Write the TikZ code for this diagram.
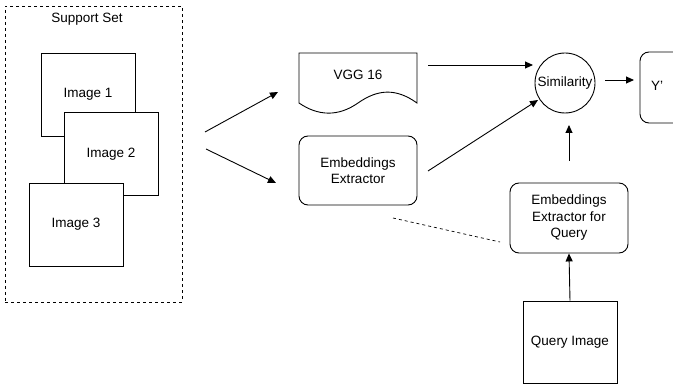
\documentclass[tikz,border=0pt]{standalone}
\usepackage{fontspec}
\setmainfont{Liberation Sans}
\usetikzlibrary{arrows.meta}
\begin{document}
\begin{tikzpicture}[x=1pt,y=-1pt,line width=0.9pt,
  lbl/.style={font=\fontsize{13.5}{16.5}\selectfont,align=center},
  imgbox/.style={draw,fill=white,minimum width=94pt,minimum height=83pt,inner sep=0pt,lbl},
  roundbox/.style={draw,fill=white,rounded corners=9pt,inner sep=0pt,lbl},
  arr/.style={-{Triangle[length=8pt,width=7pt]}}]
\useasboundingbox (0,0) rectangle (673,385);
\clip (0,0) rectangle (673,385);
% support set
\node[draw,dashed,line width=0.7pt,minimum width=177pt,minimum height=296pt,inner sep=0pt] (sup) at (93.5,154) {};
\node[lbl] (suplbl) at (87,19) {Support Set};
\node[imgbox] (im1) at (88,94.5) {Image 1};
\node[imgbox] (im2) at (111,154) {Image 2};
\node[imgbox] (im3) at (76,224.5) {Image 3};
% VGG document shape
\draw[fill=white] (299,53) -- (417,53) -- (417,103)
  .. controls (396,88) and (378,89) .. (358,103)
  .. controls (338,117) and (318,116) .. (299,103) -- cycle;
\node[lbl] (vgg) at (358,75) {VGG 16};
% embeddings extractor
\node[roundbox,minimum width=118pt,minimum height=69pt] (ee) at (358,170.5) {Embeddings\\Extractor};
% similarity
\node[draw,circle,minimum size=60pt,inner sep=0pt,lbl] (sim) at (565,83) {Similarity};
% Y'
\draw[rounded corners=9pt] (700,52) -- (640,52) -- (640,123) -- (700,123);
\node[lbl] (y) at (657,86) {Y'};
% EE for query
\node[roundbox,minimum width=118pt,minimum height=70pt] (eeq) at (569,218) {Embeddings\\Extractor for\\Query};
% query image
\node[draw,minimum width=94pt,minimum height=82pt,inner sep=0pt,lbl] (qi) at (570,342) {Query Image};
% connectors
\coordinate (s1) at (205,132);
\coordinate (t1) at (278,92);
\coordinate (s2) at (206,149);
\coordinate (t2) at (276,183);
\draw[arr] (s1) -- (t1);
\draw[arr] (s2) -- (t2);
\coordinate (v1) at (428,65);
\coordinate (v2) at (533,65);
\draw[arr] (v1) -- (v2);
\coordinate (e1) at (428,171);
\coordinate (e2) at (538,100);
\draw[arr] (e1) -- (e2);
\coordinate (o1) at (605,80);
\coordinate (o2) at (634,80);
\draw[arr] (o1) -- (o2);
\coordinate (q1) at (569,161);
\draw[arr] (q1) -- (569,125);
\draw[arr] (qi.north) -- (eeq.south);
\coordinate (d1) at (393,218);
\coordinate (d2) at (500,242);
\draw[dashed,line width=0.7pt] (d1) -- (d2);
\end{tikzpicture}
\end{document}
